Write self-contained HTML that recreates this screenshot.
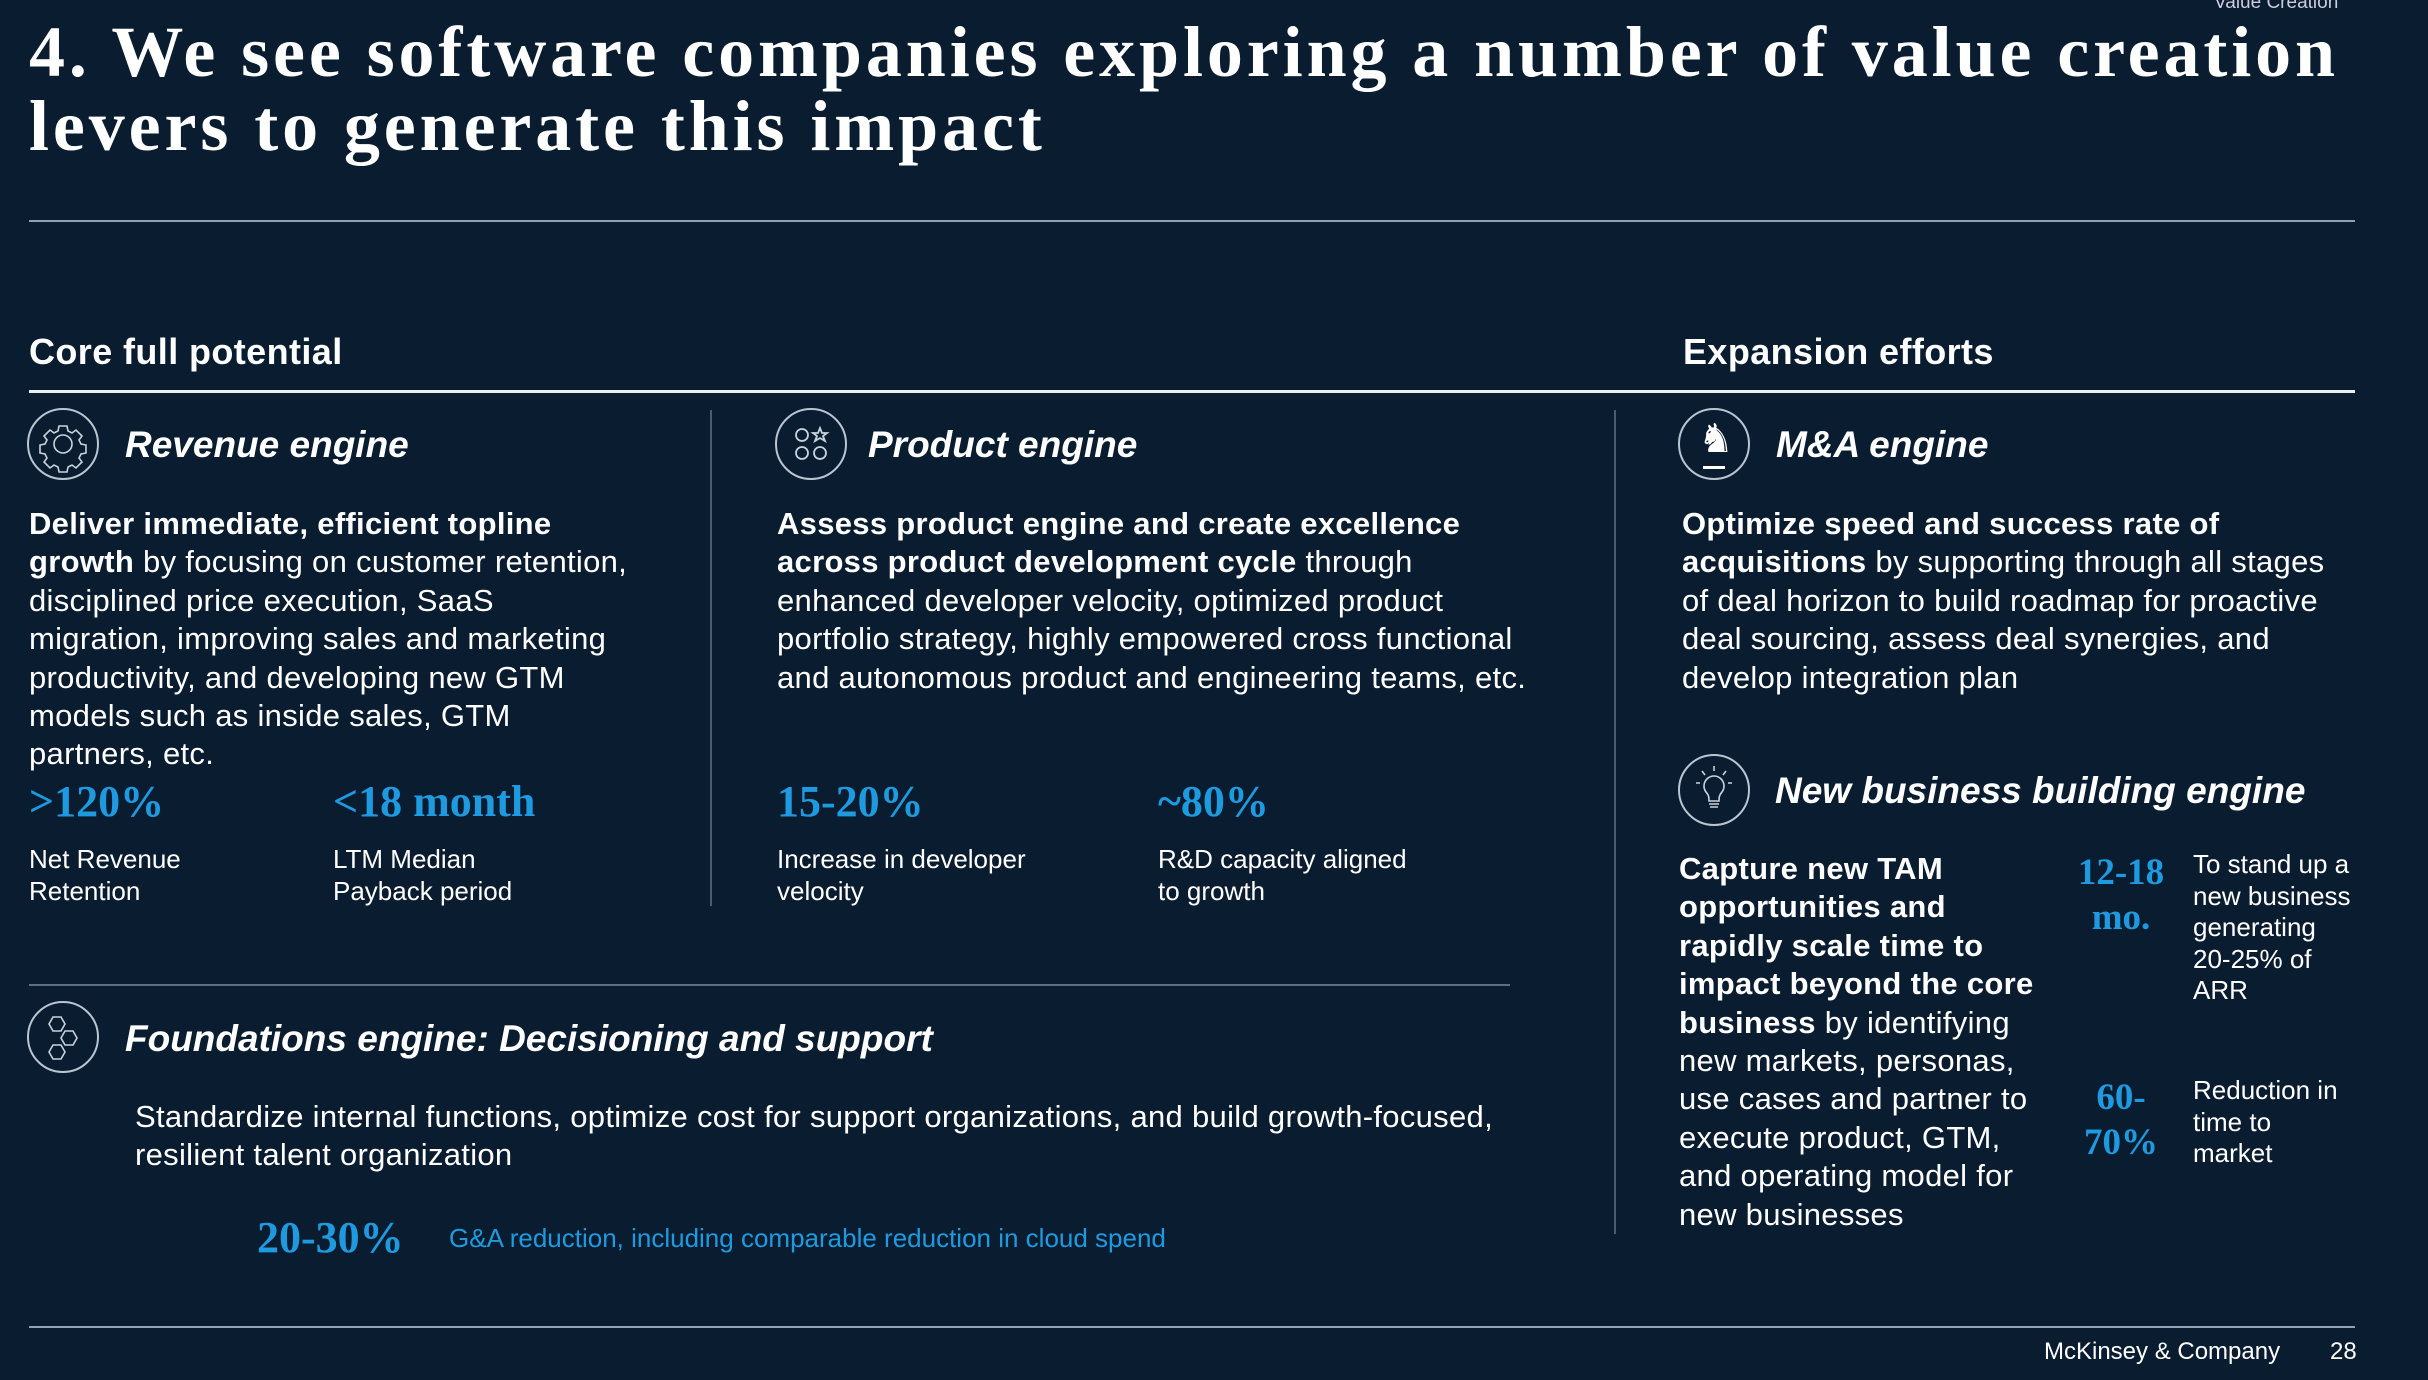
<!DOCTYPE html>
<html><head><meta charset="utf-8"><style>
*{margin:0;padding:0;box-sizing:border-box}
body{width:2428px;height:1380px;background:#0a1c2f;position:relative;overflow:hidden;color:#fff;font-family:"Liberation Sans",Arial,sans-serif}
.a{position:absolute;white-space:nowrap}
.title{font-family:"Liberation Serif",serif;font-weight:bold;font-size:72px;line-height:74px;letter-spacing:3.9px;left:29px;top:15px}
.sec{font-size:36px;font-weight:bold;letter-spacing:0.4px}
.h{font-size:37px;font-weight:bold;font-style:italic}
.body{font-size:31px;line-height:38.4px;letter-spacing:0.3px}
.m{font-family:"Liberation Serif",serif;font-weight:bold;font-size:44px;color:#1e9be0}
.lab{font-size:26px;line-height:32px}
.line{position:absolute;background:#8fa3b5}
.ic{position:absolute;width:72px;height:72px;border:2px solid #b9c6d2;border-radius:50%}
svg{position:absolute}
</style></head><body>
<div class="a" style="left:2214px;top:-8px;font-size:19px;color:#ccd">Value Creation</div>
<div class="a title">4. We see software companies exploring a number of value creation<br>levers to generate this impact</div>
<div class="line" style="left:29px;top:220px;width:2326px;height:2px"></div>

<div class="a sec" style="left:29px;top:331px">Core full potential</div>
<div class="a sec" style="left:1683px;top:331px">Expansion efforts</div>
<div class="line" style="left:29px;top:390px;width:2326px;height:3px;background:#e8eef3"></div>

<div class="line" style="left:710px;top:410px;width:2px;height:496px;background:#4a5d70"></div>
<div class="line" style="left:1614px;top:410px;width:2px;height:824px;background:#4a5d70"></div>

<!-- icons -->
<div class="ic" style="left:27px;top:408px"></div>
<svg style="left:27px;top:408px" width="72" height="72" viewBox="0 0 72 72" fill="none" stroke="#c8d3dd" stroke-width="1.6"><circle cx="36" cy="36" r="9"/><path d="M32 18h8l1 5 4 2 4-3 6 6-3 4 2 4 5 1v8l-5 1-2 4 3 4-6 6-4-3-4 2-1 5h-8l-1-5-4-2-4 3-6-6 3-4-2-4-5-1v-8l5-1 2-4-3-4 6-6 4 3 4-2z"/></svg>
<div class="ic" style="left:775px;top:408px"></div>
<svg style="left:775px;top:408px" width="72" height="72" viewBox="0 0 72 72" fill="none" stroke="#c8d3dd" stroke-width="1.8"><circle cx="27" cy="27" r="6"/><path d="M45 20l2 5h5l-4 3 2 5-5-3-5 3 2-5-4-3h5z"/><circle cx="27" cy="45" r="6"/><circle cx="45" cy="45" r="6"/></svg>
<div class="ic" style="left:1678px;top:408px"></div>
<div class="a" style="left:1698px;top:416px;font-size:40px;color:#fff">♞</div>
<div class="line" style="left:1703px;top:466px;width:22px;height:3px;background:#fff"></div>
<div class="ic" style="left:1678px;top:754px"></div>
<svg style="left:1678px;top:754px" width="72" height="72" viewBox="0 0 72 72" fill="none" stroke="#c8d3dd" stroke-width="1.6"><path d="M28 38a10 10 0 1 1 16 0c-3 3-3 6-3 9h-10c0-3 0-6-3-9z"/><path d="M31 50h10M32 53h8M36 12v5M24 17l3 4M48 17l-3 4M18 29h4M50 29h4"/></svg>
<div class="ic" style="left:27px;top:1001px"></div>
<svg style="left:27px;top:1001px" width="72" height="72" viewBox="0 0 72 72" fill="none" stroke="#c8d3dd" stroke-width="1.6"><path d="M26 16l8 0 4 7-4 7h-8l-4-7z"/><path d="M38 30l8 0 4 7-4 7h-8l-4-7z"/><path d="M26 44l8 0 4 7-4 7h-8l-4-7z"/></svg>

<!-- Revenue -->
<div class="a h" style="left:125px;top:424px">Revenue engine</div>
<div class="a body" style="left:29px;top:505px"><b>Deliver immediate, efficient topline<br>growth</b> by focusing on customer retention,<br>disciplined price execution, SaaS<br>migration, improving sales and marketing<br>productivity, and developing new GTM<br>models such as inside sales, GTM<br>partners, etc.</div>
<div class="a m" style="left:29px;top:776px">&gt;120%</div>
<div class="a m" style="left:333px;top:776px">&lt;18 month</div>
<div class="a lab" style="left:29px;top:843px">Net Revenue<br>Retention</div>
<div class="a lab" style="left:333px;top:843px">LTM Median<br>Payback period</div>

<!-- Product -->
<div class="a h" style="left:868px;top:424px">Product engine</div>
<div class="a body" style="left:777px;top:505px"><b>Assess product engine and create excellence<br>across product development cycle</b> through<br>enhanced developer velocity, optimized product<br>portfolio strategy, highly empowered cross functional<br>and autonomous product and engineering teams, etc.</div>
<div class="a m" style="left:777px;top:776px">15-20%</div>
<div class="a m" style="left:1158px;top:776px">~80%</div>
<div class="a lab" style="left:777px;top:843px">Increase in developer<br>velocity</div>
<div class="a lab" style="left:1158px;top:843px">R&amp;D capacity aligned<br>to growth</div>

<!-- Foundations -->
<div class="line" style="left:29px;top:984px;width:1481px;height:2px;background:#5d7083"></div>
<div class="a h" style="left:125px;top:1018px">Foundations engine: Decisioning and support</div>
<div class="a body" style="left:135px;top:1098px">Standardize internal functions, optimize cost for support organizations, and build growth-focused,<br>resilient talent organization</div>
<div class="a m" style="left:257px;top:1212px">20-30%</div>
<div class="a lab" style="left:449px;top:1222px;color:#1e9be0">G&amp;A reduction, including comparable reduction in cloud spend</div>

<!-- M&A -->
<div class="a h" style="left:1776px;top:424px">M&amp;A engine</div>
<div class="a body" style="left:1682px;top:505px"><b>Optimize speed and success rate of<br>acquisitions</b> by supporting through all stages<br>of deal horizon to build roadmap for proactive<br>deal sourcing, assess deal synergies, and<br>develop integration plan</div>

<!-- New business -->
<div class="a h" style="left:1775px;top:770px">New business building engine</div>
<div class="a body" style="left:1679px;top:850px"><b>Capture new TAM<br>opportunities and<br>rapidly scale time to<br>impact beyond the core<br>business</b> by identifying<br>new markets, personas,<br>use cases and partner to<br>execute product, GTM,<br>and operating model for<br>new businesses</div>
<div class="a m" style="left:2061px;top:850px;width:120px;text-align:center;font-size:37px;line-height:45px">12-18<br>mo.</div>
<div class="a lab" style="left:2193px;top:849px;line-height:31.5px">To stand up a<br>new business<br>generating<br>20-25% of<br>ARR</div>
<div class="a m" style="left:2061px;top:1075px;width:120px;text-align:center;font-size:37px;line-height:45px">60-<br>70%</div>
<div class="a lab" style="left:2193px;top:1075px;line-height:31.5px">Reduction in<br>time to<br>market</div>

<div class="line" style="left:29px;top:1326px;width:2326px;height:2px"></div>
<div class="a" style="left:2044px;top:1338px;font-size:24px">McKinsey &amp; Company</div>
<div class="a" style="left:2330px;top:1338px;font-size:24px">28</div>
</body></html>
